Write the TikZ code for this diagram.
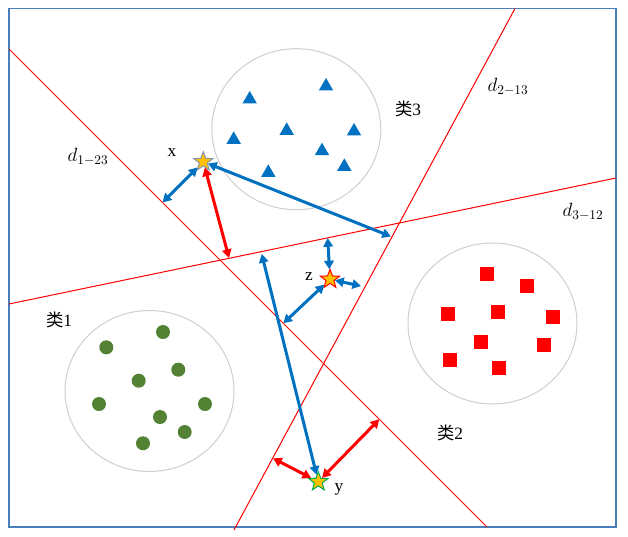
\documentclass[tikz,border=0pt]{standalone}
\usepackage{fontspec}
\setmainfont{Liberation Serif}
\newfontfamily\cjk{Noto Sans CJK SC}
\usetikzlibrary{shapes.geometric,arrows.meta}
\definecolor{lineblue}{RGB}{0,112,192}
\definecolor{dotgreen}{RGB}{84,130,53}
\definecolor{ringgray}{RGB}{208,206,206}
\definecolor{framegray}{RGB}{74,126,187}
\definecolor{stargold}{RGB}{255,192,0}
\definecolor{starblue}{RGB}{132,151,176}
\definecolor{stargreen}{RGB}{0,176,80}

\begin{document}
\begin{tikzpicture}[x=0.75pt,y=-0.75pt,
  font=\fontsize{13}{15}\selectfont,
  class ring/.style={ellipse,draw=ringgray,line width=0.75pt,minimum width=126.75pt,minimum height=120.75pt,inner sep=0pt},
  tri node/.style={regular polygon,regular polygon sides=3,fill=lineblue,minimum size=12.5pt,inner sep=0pt,yshift=-1.5pt},
  dot node/.style={circle,fill=dotgreen,minimum size=10.5pt,inner sep=0pt},
  sq node/.style={rectangle,fill=red,minimum size=10.5pt,inner sep=0pt},
  star node/.style={star,star points=5,star point ratio=2.4,fill=stargold,line width=0.75pt,minimum size=15pt,inner sep=0pt},
  line label/.style={font=\fontsize{14.4}{17}\selectfont},
  sep line/.style={red,line width=0.75pt},
  blue arrow/.style={draw=lineblue,line width=2.25pt,{Triangle[length=6.5pt,width=7pt]}-{Triangle[length=6.5pt,width=7pt]}},
  red arrow/.style={draw=red,line width=2.25pt,{Triangle[length=6.5pt,width=7pt]}-{Triangle[length=6.5pt,width=7pt]}}]

  \useasboundingbox (0,0) rectangle (628,536);
  \draw[draw=framegray,line width=1.1pt] (9,8.5) rectangle (616,527);

  % class rings
  \node[class ring] (c1) at (149.5,391) {};
  \node[class ring] (c2) at (492.5,323.5) {};
  \node[class ring] (c3) at (296.3,129.2) {};

  % class 1
  \node[dot node] (d1) at (163,332) {};
  \node[dot node] (d2) at (106.3,347.3) {};
  \node[dot node] (d3) at (178.3,369.7) {};
  \node[dot node] (d4) at (138.7,380.7) {};
  \node[dot node] (d5) at (99,404) {};
  \node[dot node] (d6) at (205,404) {};
  \node[dot node] (d7) at (160,417) {};
  \node[dot node] (d8) at (184.7,432) {};
  \node[dot node] (d9) at (143,443.3) {};

  % class 2
  \node[sq node] (s1) at (487.3,274) {};
  \node[sq node] (s2) at (526.7,285.7) {};
  \node[sq node] (s3) at (448.3,313.7) {};
  \node[sq node] (s4) at (498.3,311.7) {};
  \node[sq node] (s5) at (552.7,316.7) {};
  \node[sq node] (s6) at (481,342.3) {};
  \node[sq node] (s7) at (544,344.7) {};
  \node[sq node] (s8) at (449.7,360) {};
  \node[sq node] (s9) at (498.7,367.7) {};

  % class 3
  \node[tri node] (t1) at (249.7,97.3) {};
  \node[tri node] (t2) at (326,84.3) {};
  \node[tri node] (t3) at (286.7,128.7) {};
  \node[tri node] (t4) at (354,129.3) {};
  \node[tri node] (t5) at (233.7,137.7) {};
  \node[tri node] (t6) at (322,149) {};
  \node[tri node] (t7) at (344.3,164.7) {};
  \node[tri node] (t8) at (268.3,170.7) {};

  \node (l1) at (59,320) {{\cjk 类}1};
  \node (l2) at (450,433) {{\cjk 类}2};
  \node (l3) at (408,109) {{\cjk 类}3};

  % separating lines
  \coordinate (a1) at (9,49);   \coordinate (b1) at (487,527);
  \coordinate (a2) at (515,8.5); \coordinate (b2) at (234,530);
  \coordinate (a3) at (9,304);  \coordinate (b3) at (616,178);
  \draw[sep line] (a1) -- (b1);
  \draw[sep line] (a2) -- (b2);
  \draw[sep line] (a3) -- (b3);
  \node[line label] (e1) at (88,157) {$d_{1-23}$};
  \node[line label] (e2) at (508,87) {$d_{2-13}$};
  \node[line label] (e3) at (583,212) {$d_{3-12}$};

  % samples
  \node[star node,draw=starblue] (x) at (203.3,161.7) {};
  \node[star node,draw=red] (z) at (330,279.3) {};
  \node[star node,draw=stargreen] (y) at (318.3,481.7) {};
  \node (lx) at (172,153) {x};
  \node (lz) at (309,277) {z};
  \node (ly) at (339,489) {y};

  % feet on the lines
  \coordinate (f1) at (162.5,202.5);
  \coordinate (f2) at (229,258);
  \coordinate (f3) at (391,236.5);
  \coordinate (f4) at (261.7,254);
  \coordinate (f5) at (327.7,238);
  \coordinate (f6) at (361,286);
  \coordinate (f7) at (283.3,323.3);
  \coordinate (f8) at (273,458.3);
  \coordinate (f9) at (379.3,419.3);

  \path
   (x) edge[blue arrow] (f1)
   (x) edge[red arrow] (f2)
   (x) edge[blue arrow] (f3)
   (y) edge[blue arrow] (f4)
   (z) edge[blue arrow] (f5)
   (z) edge[blue arrow] (f6)
   (z) edge[blue arrow] (f7)
   (y) edge[red arrow] (f8)
   (y) edge[red arrow] (f9);
\end{tikzpicture}
\end{document}
